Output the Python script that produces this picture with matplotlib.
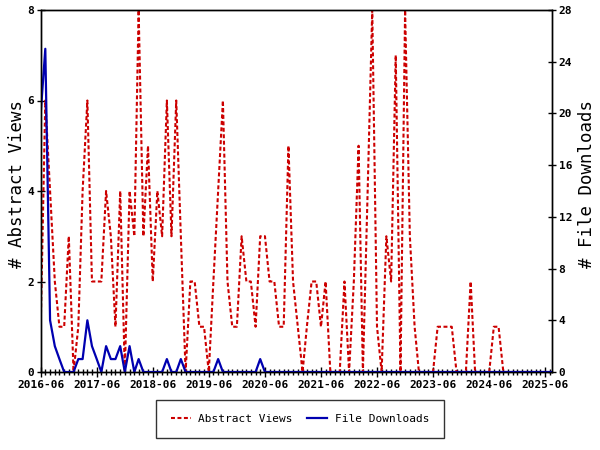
import matplotlib
matplotlib.use('Agg')
import matplotlib.pyplot as plt
import matplotlib.dates as mdates
import pandas as pd

months = pd.date_range('2016-06-01', periods=111, freq='MS')

abstract_views = [1, 6, 4, 2, 1, 1, 3, 0, 1, 4,
                  6, 2, 2, 2, 4, 3, 1, 4, 0, 4,
                  3, 8, 3, 5, 2, 4, 3, 6, 3, 6,
                  3, 0, 2, 2, 1, 1, 0, 2, 4, 6,
                  2, 1, 1, 3, 2, 2, 1, 3, 3, 2,
                  2, 1, 1, 5, 2, 1, 0, 1, 2, 2,
                  1, 2, 0, 0, 0, 2, 0, 2, 5, 0,
                  4, 8, 1, 0, 3, 2, 7, 0, 8, 3,
                  1, 0, 0, 0, 0, 1, 1, 1, 1, 0,
                  0, 0, 2, 0, 0, 0, 0, 1, 1, 0,
                  0, 0, 0, 0, 0, 0, 0, 0, 0, 0,
                  0]

file_downloads = [20, 25, 4, 2, 1, 0, 0, 0, 1, 1,
                  4, 2, 1, 0, 2, 1, 1, 2, 0, 2,
                  0, 1, 0, 0, 0, 0, 0, 1, 0, 0,
                  1, 0, 0, 0, 0, 0, 0, 0, 1, 0,
                  0, 0, 0, 0, 0, 0, 0, 1, 0, 0,
                  0, 0, 0, 0, 0, 0, 0, 0, 0, 0,
                  0, 0, 0, 0, 0, 0, 0, 0, 0, 0,
                  0, 0, 0, 0, 0, 0, 0, 0, 0, 0,
                  0, 0, 0, 0, 0, 0, 0, 0, 0, 0,
                  0, 0, 0, 0, 0, 0, 0, 0, 0, 0,
                  0, 0, 0, 0, 0, 0, 0, 0, 0, 0,
                  0]

year_ticks = pd.date_range('2016-06-01', '2025-06-01', freq='12MS')
year_labels = [d.strftime('%Y-%m') for d in year_ticks]
left_ticks = [0, 2, 4, 6, 8]
right_ticks = [0, 4, 8, 12, 16, 20, 24, 28]

MONO = 'DejaVu Sans Mono'
RED = '#CC0000'
BLUE = '#0000B0'
FS = 8.0

fig = plt.figure(figsize=(6, 4.5), dpi=100)
L, R, T, B = 40.7, 552.3, 10, 372
ax = fig.add_axes([L / 600, 1 - B / 450, (R - L) / 600, (B - T) / 450])
ax2 = ax.twinx()

l1, = ax.plot(months, abstract_views, color=RED, lw=1.5,
              ls=(0, (1.9, 1.2)), label='Abstract Views')
l2, = ax2.plot(months, file_downloads, color=BLUE, lw=1.6,
               label='File Downloads')

ax.set_ylim(0, 8)
ax2.set_ylim(0, 28)
ax.set_yticks(left_ticks)
ax2.set_yticks(right_ticks)
ax.set_xlim(months[0], pd.Timestamp('2025-07-17'))
ax.set_xticks(year_ticks)
ax.set_xticklabels(year_labels)
ax.xaxis.set_minor_locator(mdates.MonthLocator())

for a in (ax, ax2):
    for s in a.spines.values():
        s.set_color('black')
        s.set_linewidth(1.0)

ax.tick_params(axis='x', which='major', direction='inout', length=7, width=1, pad=2.5)
ax.tick_params(axis='x', which='minor', direction='inout', length=4, width=1)
ax.tick_params(axis='y', direction='inout', length=6, width=1, pad=1.5)
ax2.tick_params(axis='y', direction='inout', length=6, width=1, pad=1.5)

for lab in ax.get_xticklabels() + ax.get_yticklabels() + ax2.get_yticklabels():
    lab.set_fontfamily(MONO)
    lab.set_fontweight('bold')
    lab.set_fontsize(FS)

fig.text(17 / 600, 1 - 184 / 450, '# Abstract Views', rotation=90,
         ha='center', va='center', family=MONO, fontsize=12.5)
fig.text(586.5 / 600, 1 - 184 / 450, '# File Downloads', rotation=90,
         ha='center', va='center', family=MONO, fontsize=12.5)

leg = fig.legend([l1, l2], ['Abstract Views', 'File Downloads'],
                 loc='center', bbox_to_anchor=(0.5, 1 - 419 / 450),
                 ncol=2, frameon=True, fancybox=False, shadow=False,
                 prop={'family': MONO, 'size': FS},
                 borderpad=1.3, handlelength=1.8, handletextpad=0.7,
                 columnspacing=1.3)
leg.get_frame().set_edgecolor('black')
leg.get_frame().set_linewidth(1.0)

fig.savefig('out.png', dpi=100)
